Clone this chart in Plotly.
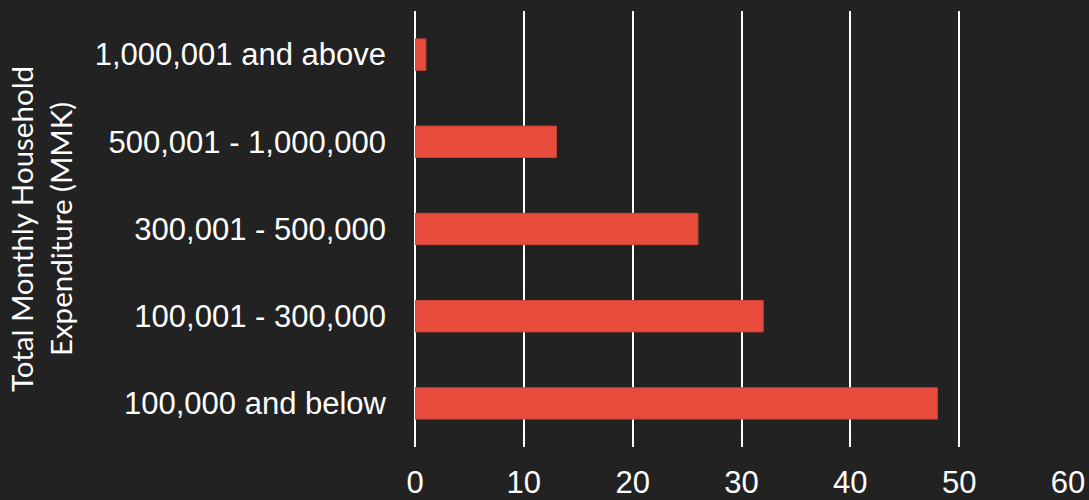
import plotly.graph_objects as go

categories = ["100,000 and below", "100,001 - 300,000", "300,001 - 500,000",
              "500,001 - 1,000,000", "1,000,001 and above"]
values = [48, 32, 26, 13, 1]
x_ticks = [0, 10, 20, 30, 40, 50, 60]

fig = go.Figure(go.Bar(
    x=values, y=categories, orientation="h",
    marker=dict(color="#E74C3C", line=dict(color="#C9423A", width=1)),
    hoverinfo="x+y",
))

fig.update_layout(
    width=1089, height=500,
    paper_bgcolor="#222222", plot_bgcolor="#222222",
    margin=dict(l=415, r=21, t=11, b=53),
    bargap=0.64,
    showlegend=False,
    font=dict(family="Liberation Sans", color="#ffffff", size=31),
)
fig.update_xaxes(
    range=[0, 60], tickvals=x_ticks, showgrid=True, gridcolor="#ffffff", gridwidth=1.5,
    zeroline=True, zerolinecolor="#ffffff", zerolinewidth=1.5,
    showline=False, ticklabelstandoff=14, automargin=False,
    tickfont=dict(family="Liberation Sans", size=31, color="#ffffff"),
)
fig.update_yaxes(
    showgrid=False, zeroline=False, showline=False, ticklabelstandoff=28,
    automargin=False,
    tickfont=dict(family="Liberation Sans", size=31, color="#ffffff"),
    title=dict(text="Total Monthly Household<br>Expenditure (MMK)",
               font=dict(family="Lato", size=29.5, color="#ffffff"),
               standoff=13),
)

fig.write_html("out.html")
